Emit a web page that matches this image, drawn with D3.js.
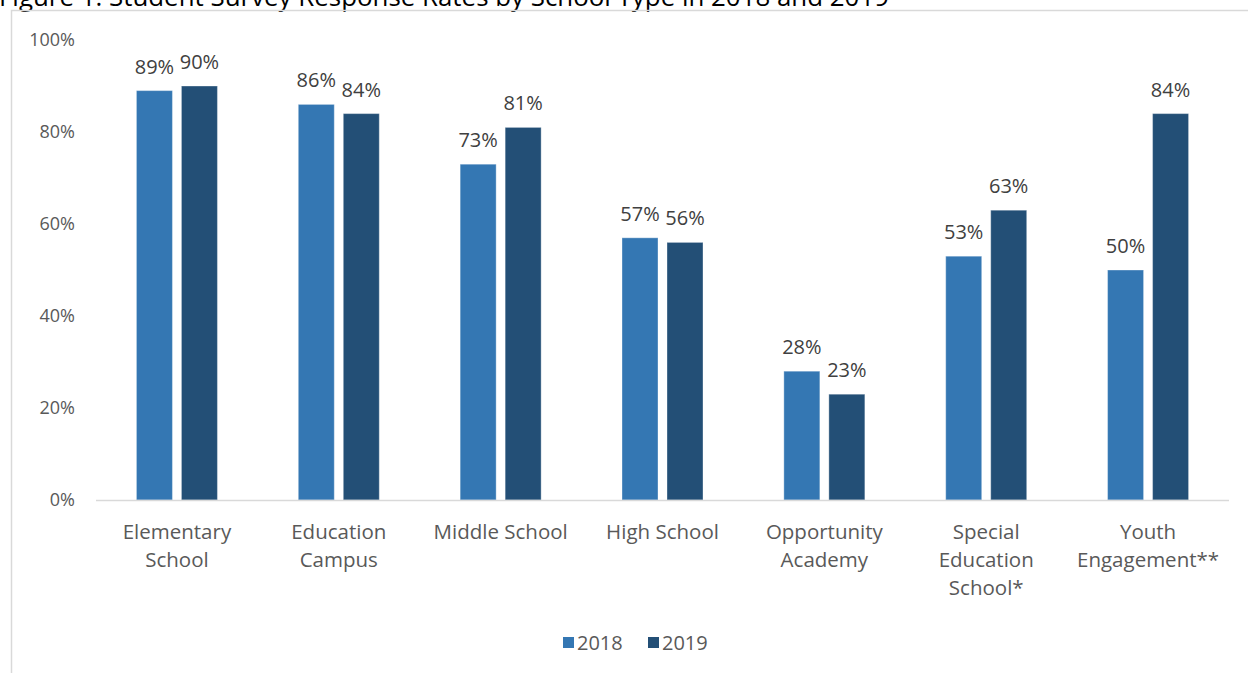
<!DOCTYPE html>
<html>
<head>
<meta charset="utf-8">
<script src="https://cdn.jsdelivr.net/npm/d3@7"></script>
<style>
  html, body { margin: 0; padding: 0; background: #fff; overflow: hidden; }
  svg { display: block; font-family: "Open Sans", sans-serif; }
</style>
</head>
<body>
<svg id="chart" width="1248" height="673"></svg>
<script>
// Survey response rates (%) by school type
const categories = [
  ["Elementary", "School"],
  ["Education", "Campus"],
  ["Middle School"],
  ["High School"],
  ["Opportunity", "Academy"],
  ["Special", "Education", "School*"],
  ["Youth", "Engagement**"]
];
const series = ["2018", "2019"];
const values2018 = [89, 86, 73, 57, 28, 53, 50];
const values2019 = [90, 84, 81, 56, 23, 63, 84];
const yTicks = [0, 20, 40, 60, 80, 100];
const titleText = "Figure 1. Student Survey Response Rates by School Type in 2018 and 2019";

const colors = { "2018": "#3477b3", "2019": "#234f76" };
const seriesValues = { "2018": values2018, "2019": values2019 };

const svg = d3.select("#chart");

// Title (sits above the chart frame, running off the top edge)
svg.append("text")
  .attr("x", -1).attr("y", 6)
  .attr("font-size", 26).attr("fill", "#000")
  .attr("textLength", 890).attr("lengthAdjust", "spacingAndGlyphs")
  .text(titleText);

// Chart frame
svg.append("rect")
  .attr("x", 11.5).attr("y", 10.5)
  .attr("width", 1300).attr("height", 700)
  .attr("fill", "none").attr("stroke", "#d9d9d9").attr("stroke-width", 1.5);

const plot = { left: 96, right: 1229, top: 40, bottom: 500 };

const x = d3.scaleBand()
  .domain(d3.range(categories.length))
  .range([plot.left, plot.right])
  .paddingInner(0).paddingOuter(0);

const barW = 36, barGap = 9;
const xs = d3.scaleOrdinal().domain(series).range([-(barGap / 2 + barW), barGap / 2]);

const y = d3.scaleLinear().domain([0, 100]).range([plot.bottom, plot.top]);

// Y-axis tick labels
const yAxis = d3.axisLeft(y).tickValues(yTicks).tickFormat(d => d + "%").tickSize(0).tickPadding(0);
const yg = svg.append("g").attr("transform", "translate(75,0)").call(yAxis);
yg.select(".domain").remove();
yg.selectAll("text")
  .attr("font-size", 18).attr("fill", "#595959")
  .attr("font-family", "Open Sans, sans-serif");

// Bars
series.forEach(s => {
  const g = svg.append("g");
  g.selectAll("rect")
    .data(seriesValues[s])
    .join("rect")
    .attr("x", (d, i) => x(i) + x.bandwidth() / 2 + xs(s))
    .attr("y", d => y(d))
    .attr("width", barW)
    .attr("height", d => y(0) - y(d))
    .attr("fill", colors[s])
    .attr("stroke", "#ffffff").attr("stroke-opacity", 0.35).attr("stroke-width", 1);

  g.selectAll("text")
    .data(seriesValues[s])
    .join("text")
    .attr("x", (d, i) => x(i) + x.bandwidth() / 2 + xs(s) + barW / 2)
    .attr("y", d => y(d) - 17)
    .attr("text-anchor", "middle")
    .attr("font-size", 20).attr("fill", "#404040")
    .text(d => d + "%");
});

// X-axis line
svg.append("line")
  .attr("x1", plot.left).attr("x2", plot.right)
  .attr("y1", plot.bottom + 0.5).attr("y2", plot.bottom + 0.5)
  .attr("stroke", "#d9d9d9").attr("stroke-width", 1.5);

// Category labels
const cat = svg.append("g").selectAll("text")
  .data(categories)
  .join("text")
  .attr("x", (d, i) => x(i) + x.bandwidth() / 2)
  .attr("y", 539)
  .attr("text-anchor", "middle")
  .attr("font-size", 20.5).attr("fill", "#595959");
cat.selectAll("tspan")
  .data(d => d)
  .join("tspan")
  .attr("x", function () { return d3.select(this.parentNode).attr("x"); })
  .attr("dy", (d, i) => i === 0 ? 0 : 28)
  .text(d => d);

// Legend
const legend = svg.append("g");
const legendItems = [{ s: "2018", x: 563 }, { s: "2019", x: 648 }];
legendItems.forEach(it => {
  legend.append("rect")
    .attr("x", it.x).attr("y", 637)
    .attr("width", 11).attr("height", 11)
    .attr("fill", colors[it.s]);
  legend.append("text")
    .attr("x", it.x + 14).attr("y", 650)
    .attr("font-size", 20).attr("fill", "#595959")
    .text(it.s);
});
</script>
</body>
</html>
